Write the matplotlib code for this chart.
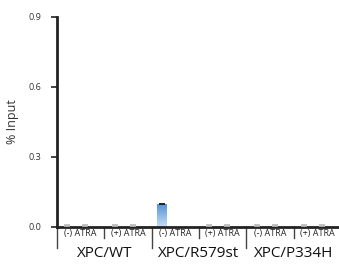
import numpy as np
import matplotlib
matplotlib.use("Agg")
import matplotlib.pyplot as plt
from matplotlib.patches import Rectangle


# Chart data
genotypes = ["XPC/WT", "XPC/R579st", "XPC/P334H"]
treatments = ["(-) ATRA", "(+) ATRA"]
# two bars per treatment group, in group order
bar_values = [0.003, 0.003, 0.003, 0.003, 0.095, 0.0, 0.003, 0.003, 0.003, 0.003, 0.003, 0.003]
bar_errors = [0.002, 0.002, 0.002, 0.002, 0.003, 0.0, 0.002, 0.002, 0.002, 0.002, 0.002, 0.002]
y_ticks = [0.0, 0.3, 0.6, 0.9]

plt.rcParams['font.family'] = ['Open Sans', 'DejaVu Sans']

fig = plt.figure(figsize=(3.39, 2.66), dpi=100)
ax = fig.add_axes([0.168, 0.148, 0.838, 0.789])

n_groups = len(genotypes) * len(treatments)
offsets = [0.22, 0.6]
width = 0.21

# Draw bars (blue gradient), error caps
for i, (val, err) in enumerate(zip(bar_values, bar_errors)):
    g = i // 2
    x = g + offsets[i % 2]
    if val > 0.02:
        grad = np.linspace(1, 0, 50).reshape(-1, 1)
        im = ax.imshow(grad, extent=[x - width / 2, x + width / 2, 0, val], aspect='auto',
                       cmap=matplotlib.colors.LinearSegmentedColormap.from_list('b', ['#c8ddf4', '#5594d8']),
                       origin='upper', zorder=2)
        im.set_clip_path(Rectangle((x - width / 2, 0), width, val, transform=ax.transData))
    if err > 0:
        ax.errorbar(x, val, yerr=[[0], [err]], fmt='none', ecolor='#222222' if val > 0.02 else '#bbbbbb',
                    elinewidth=1, capsize=2, capthick=1.2, zorder=3)

ax.set_xlim(0, n_groups)
ax.set_ylim(0, 0.9)
ax.set_yticks(y_ticks)
ax.set_yticklabels([f"{t:.1f}" for t in y_ticks], fontsize=6.5, color='#333333')
ax.set_xticks([])
ax.set_ylabel("% Input", fontsize=9, labelpad=7, color='#333333')

ax.spines['top'].set_visible(False)
ax.spines['right'].set_visible(False)
ax.spines['left'].set_linewidth(2)
ax.spines['bottom'].set_linewidth(2)
ax.spines['left'].set_color('#222222')
ax.spines['bottom'].set_color('#222222')
ax.tick_params(axis='y', length=4, width=1.2, color='#222222', pad=7)

# Group dividers and labels below the axis
for g in range(n_groups + 1):
    long = g % 2 == 0
    ax.plot([g, g], [0, -0.09 if long else -0.05], color='#444444', lw=1.0,
            clip_on=False, zorder=1)
for g in range(n_groups):
    ax.text(g + 0.5, -0.01, treatments[g % 2], ha='center', va='top', fontsize=6.5, color='#222222')
for k, name in enumerate(genotypes):
    ax.text(2 * k + 1, -0.085, name, ha='center', va='top', fontsize=11, color='#111111')

fig.savefig("out.png", dpi=100)
